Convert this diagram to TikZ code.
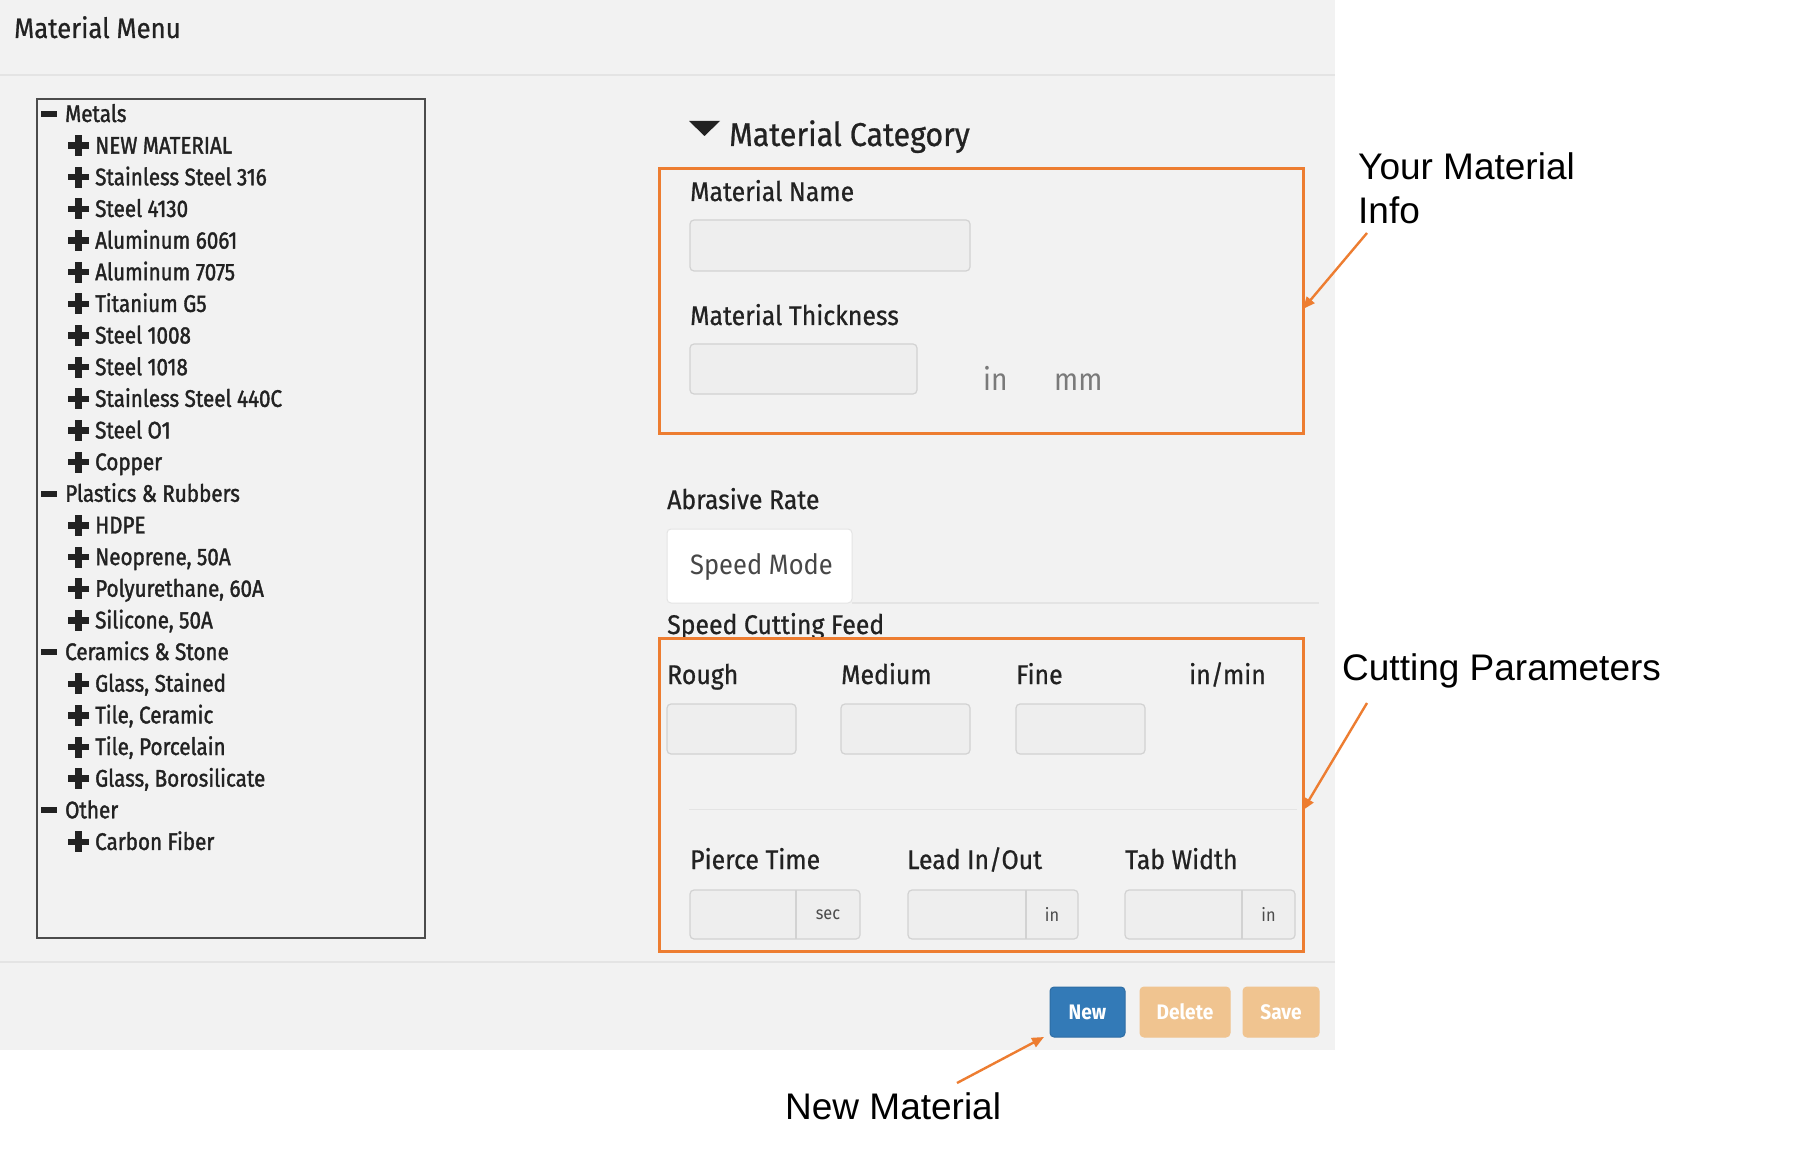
\documentclass[tikz,border=0pt]{standalone}
\usepackage{fontspec}
\usetikzlibrary{arrows.meta,calc}
\newfontfamily\ui[FakeStretch=0.91]{Fira Sans}
\newfontfamily\uil[FakeStretch=0.92,FakeBold=0.7]{Fira Sans}
\newfontfamily\uim[FakeStretch=0.86,FakeBold=1.5]{Fira Sans}
\newfontfamily\ann{Liberation Sans}
\definecolor{panel}{HTML}{F2F2F2}
\definecolor{sepc}{HTML}{E4E4E4}
\definecolor{dark}{HTML}{222222}
\definecolor{orng}{HTML}{ED7D31}
\definecolor{infill}{HTML}{EEEEEE}
\definecolor{inborder}{HTML}{D2D2D2}
\definecolor{unitgray}{HTML}{7A7A7A}
\definecolor{btnblue}{HTML}{337AB7}
\definecolor{btnblueb}{HTML}{2E6DA4}
\definecolor{btnoff}{HTML}{F0C490}
\begin{document}
\begin{tikzpicture}[x=1pt,y=-1pt,
  box/.style={inner sep=0pt, outer sep=0pt, anchor=north west},
  obox/.style={box, draw=orng, line width=3pt},
  inbox/.style={box, fill=infill, draw=inborder, line width=1.2pt, rounded corners=4pt},
  lbl/.style={anchor=base west, inner sep=0pt, text=dark, font=\uil\fontsize{27}{30}\selectfont},
  tree/.style={anchor=base west, inner sep=0pt, text=dark, font=\uim\fontsize{24}{28}\selectfont},
  unit/.style={anchor=base west, inner sep=0pt, text=unitgray, font=\ui\fontsize{31}{34}\selectfont},
  suffix/.style={inner sep=0pt, text=black!70, font=\ui\fontsize{18}{20}\selectfont},
  btn/.style={box, rounded corners=4pt, line width=1pt},
  btntext/.style={text=white, inner sep=0pt, font=\ui\bfseries\fontsize{21}{24}\selectfont},
  annot/.style={anchor=base west, inner sep=0pt, text=black, font=\ann\fontsize{37}{44}\selectfont},
  callout/.style={draw=orng, line width=2.4pt, -{Triangle[length=12pt,width=10pt]}},
  sepline/.style={draw=sepc, line width=1.5pt}
]
\useasboundingbox (0,0) rectangle (1800,1150);
\fill[white] (0,0) rectangle (1800,1150);
% gray panel
\node[box, fill=panel, minimum width=1335pt, minimum height=1050pt] (panel) at (0,0) {};
\node[anchor=base west, inner sep=0pt, text=dark, font=\uil\fontsize{28}{30}\selectfont] (title) at (14,38) {Material Menu};
\draw[sepline] (0,75) -- (1335,75);
\draw[sepline] (0,962) -- (1335,962);

% tree
\node[box, draw=black!70, line width=1.5pt, minimum width=388pt, minimum height=839pt] (treebox) at (37,99) {};
\foreach \i/\lab in {0/Metals, 12/{Plastics \& Rubbers}, 17/{Ceramics \& Stone}, 22/Other}{
  \pgfmathsetmacro\yy{114+\i*31.65}
  \fill[dark] (41,\yy-3) rectangle (57,\yy+3);
  \node[tree] (cat\i) at (65,\yy+8) {\lab};
}
\foreach \i/\lab in {1/NEW MATERIAL, 2/Stainless Steel 316, 3/Steel 4130, 4/Aluminum 6061, 5/Aluminum 7075, 6/Titanium G5, 7/Steel 1008, 8/Steel 1018, 9/Stainless Steel 440C, 10/Steel O1, 11/Copper, 13/HDPE, 14/{Neoprene, 50A}, 15/{Polyurethane, 60A}, 16/{Silicone, 50A}, 18/{Glass, Stained}, 19/{Tile, Ceramic}, 20/{Tile, Porcelain}, 21/{Glass, Borosilicate}, 23/Carbon Fiber}{
  \pgfmathsetmacro\yy{114+\i*31.65}
  \fill[dark] (68,\yy-3.2) rectangle (89,\yy+3.2);
  \fill[dark] (75.3,\yy-10.5) rectangle (81.7,\yy+10.5);
  \node[tree] (item\i) at (95,\yy+8) {\lab};
}

% material category
\fill[dark] (689,121) -- (720,121) -- (704.5,136) -- cycle;
\node[anchor=base west, inner sep=0pt, text=dark, font=\uil\fontsize{33}{36}\selectfont] (cathead) at (729,146) {Material Category};
\node[obox, minimum width=644pt, minimum height=264pt] (box1) at (659,169) {};
\node[lbl] (mname) at (690,201) {Material Name};
\node[inbox, minimum width=280pt, minimum height=51pt] (namein) at (690,220) {};
\node[lbl] (mthick) at (690,325) {Material Thickness};
\node[inbox, minimum width=227pt, minimum height=50pt] (thickin) at (690,344) {};
\node[unit] (uin) at (983,391) {in};
\node[unit] (umm) at (1054,391) {mm};

% abrasive rate
\node[lbl] (abr) at (667,509) {Abrasive Rate};
\node[box, fill=white, draw=sepc, line width=1pt, rounded corners=4pt, minimum width=185pt, minimum height=74pt] (tab) at (667,529) {};
\node[anchor=base west, inner sep=0pt, text=black!72, font=\ui\fontsize{28}{30}\selectfont] (speedmode) at (690,574) {Speed Mode};
\draw[draw=sepc, line width=1.5pt] (tab.south east) -- (1319,603);
\node[lbl] (scf) at (667,634) {Speed Cutting Feed};

% cutting parameters box
\node[obox, minimum width=644pt, minimum height=313pt] (box2) at (659,638) {};
\node[lbl] (rough) at (667,684) {Rough};
\node[lbl] (medium) at (841,684) {Medium};
\node[lbl] (fine) at (1016,684) {Fine};
\node[lbl] (inmin) at (1189,684) {in/min};
\node[inbox, minimum width=129pt, minimum height=50pt] (roughin) at (667,704) {};
\node[inbox, minimum width=129pt, minimum height=50pt] (mediumin) at (841,704) {};
\node[inbox, minimum width=129pt, minimum height=50pt] (finein) at (1016,704) {};
\draw[draw=sepc, line width=1pt] (689,809) -- (1297,809);
\node[lbl] (pierce) at (690,869) {Pierce Time};
\node[lbl] (lead) at (907,869) {Lead In/Out};
\node[lbl] (tabw) at (1125,869) {Tab Width};
\foreach \nm/\x/\d/\u in {piercein/690/796/sec, leadin/908/1026/in, tabin/1125/1242/in}{
  \node[inbox, minimum width=170pt, minimum height=49pt] (\nm) at (\x,890) {};
  \draw[draw=inborder, line width=1.2pt] (\d,890) -- (\d,939);
  \node[suffix] (\nm-u) at ({(\d+\x+170)/2},914.5) {\u};
}

% buttons
\node[btn, fill=btnblue, draw=btnblueb, minimum width=75pt, minimum height=50pt] (newbtn) at (1050,987) {};
\node[btntext] at (newbtn.center) {New};
\node[btn, fill=btnoff, draw=btnoff, minimum width=90pt, minimum height=50pt] (delbtn) at (1140,987) {};
\node[btntext] at (delbtn.center) {Delete};
\node[btn, fill=btnoff, draw=btnoff, minimum width=76pt, minimum height=50pt] (savebtn) at (1243,987) {};
\node[btntext] at (savebtn.center) {Save};

% annotations
\node[annot] (ann1a) at (1358,180) {Your Material};
\node[annot] (ann1b) at (1358,224) {Info};
\node[annot] (ann2) at (1342,680) {Cutting Parameters};
\node[annot] (ann3) at (785,1119) {New Material};
\coordinate (a1s) at (1367,233);
\coordinate (a2s) at (1367,703);
\coordinate (a3s) at (957,1083);
\draw[callout] (a1s) -- ($(box1.north east)!0.53!(box1.south east)$);
\draw[callout] (a2s) -- ($(box2.north east)!0.55!(box2.south east)$);
\draw[callout] (a3s) -- ($(newbtn.south west)+(-6,0)$);
\end{tikzpicture}
\end{document}
